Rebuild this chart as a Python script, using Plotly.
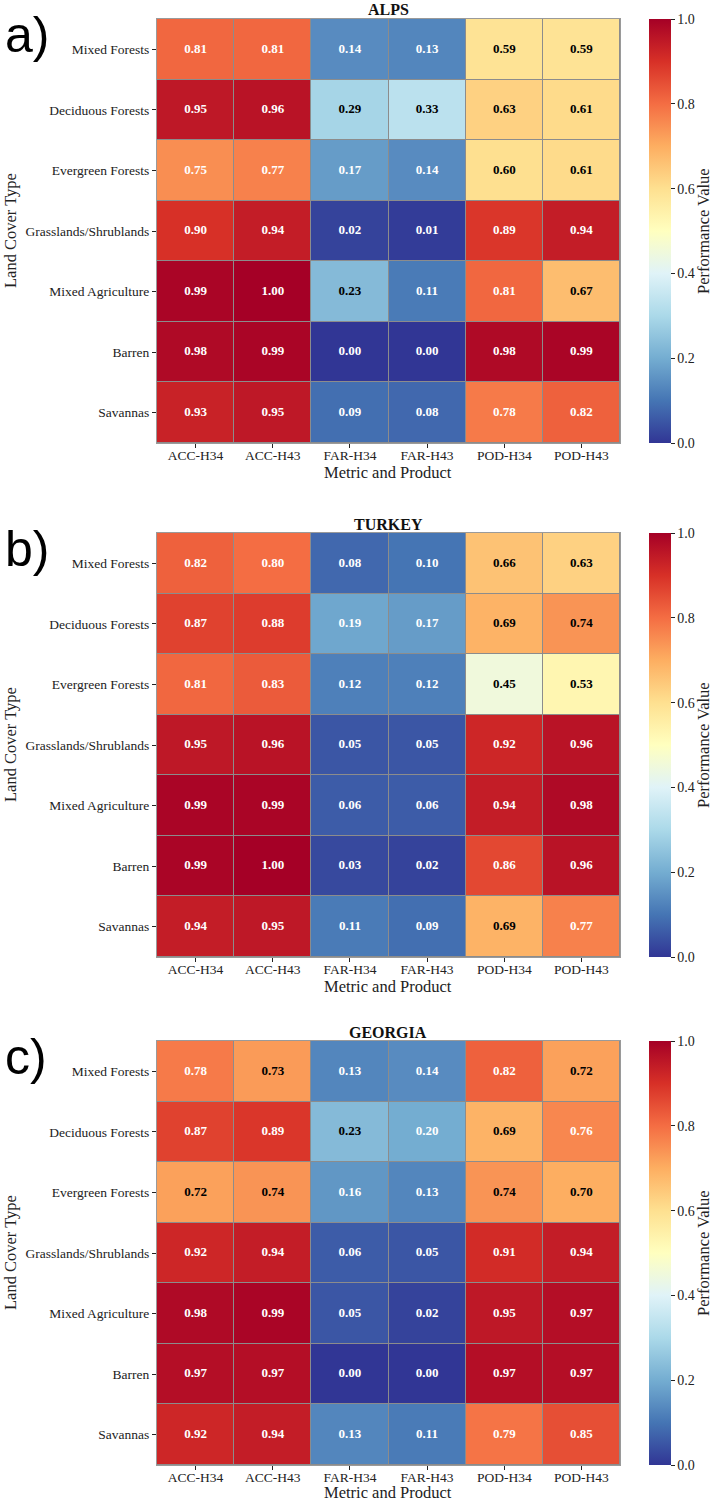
import plotly.graph_objects as go

# ---------------- data ----------------
land_cover = ["Mixed Forests", "Deciduous Forests", "Evergreen Forests",
              "Grasslands/Shrublands", "Mixed Agriculture", "Barren", "Savannas"]
metrics = ["ACC-H34", "ACC-H43", "FAR-H34", "FAR-H43", "POD-H34", "POD-H43"]
regions = ["ALPS", "TURKEY", "GEORGIA"]
panel_labels = ["a)", "b)", "c)"]

alps = [
    [0.81, 0.81, 0.14, 0.13, 0.59, 0.59],
    [0.95, 0.96, 0.29, 0.33, 0.63, 0.61],
    [0.75, 0.77, 0.17, 0.14, 0.60, 0.61],
    [0.90, 0.94, 0.02, 0.01, 0.89, 0.94],
    [0.99, 1.00, 0.23, 0.11, 0.81, 0.67],
    [0.98, 0.99, 0.00, 0.00, 0.98, 0.99],
    [0.93, 0.95, 0.09, 0.08, 0.78, 0.82],
]
turkey = [
    [0.82, 0.80, 0.08, 0.10, 0.66, 0.63],
    [0.87, 0.88, 0.19, 0.17, 0.69, 0.74],
    [0.81, 0.83, 0.12, 0.12, 0.45, 0.53],
    [0.95, 0.96, 0.05, 0.05, 0.92, 0.96],
    [0.99, 0.99, 0.06, 0.06, 0.94, 0.98],
    [0.99, 1.00, 0.03, 0.02, 0.86, 0.96],
    [0.94, 0.95, 0.11, 0.09, 0.69, 0.77],
]
georgia = [
    [0.78, 0.73, 0.13, 0.14, 0.82, 0.72],
    [0.87, 0.89, 0.23, 0.20, 0.69, 0.76],
    [0.72, 0.74, 0.16, 0.13, 0.74, 0.70],
    [0.92, 0.94, 0.06, 0.05, 0.91, 0.94],
    [0.98, 0.99, 0.05, 0.02, 0.95, 0.97],
    [0.97, 0.97, 0.00, 0.00, 0.97, 0.97],
    [0.92, 0.94, 0.13, 0.11, 0.79, 0.85],
]
panels = [alps, turkey, georgia]

# RdYlBu reversed (ColorBrewer 11)
rdylbu_r = ["#313695", "#4575b4", "#74add1", "#abd9e9", "#e0f3f8", "#ffffbf",
            "#fee090", "#fdae61", "#f46d43", "#d73027", "#a50026"]
colorscale = [[i / 10, c] for i, c in enumerate(rdylbu_r)]


def hex2rgb(h):
    h = h.lstrip("#")
    return [int(h[i:i + 2], 16) / 255 for i in (0, 2, 4)]


def cmap(v):
    idx = min(int(v * 256), 255)
    t = idx / 255 * 10
    i = min(int(t), 9)
    f = t - i
    a, b = hex2rgb(rdylbu_r[i]), hex2rgb(rdylbu_r[i + 1])
    return [a[k] + (b[k] - a[k]) * f for k in range(3)]


def lum(rgb):
    lin = [c / 12.92 if c <= 0.03928 else ((c + 0.055) / 1.055) ** 2.4 for c in rgb]
    return 0.2126 * lin[0] + 0.7152 * lin[1] + 0.0722 * lin[2]


# ---------------- layout geometry (px) ----------------
W, H = 712, 1503
x0, x1 = 157, 620
tops = [19, 533, 1041]
ph = 424
cb_left, cb_w = 649, 22

SERIF = "Liberation Serif"
SANS = "Liberation Sans"


def px(x):
    return x / W


def py(y):
    return 1 - y / H


fig = go.Figure()
annotations = []
layout = {}

for k, (data, region, lab) in enumerate(zip(panels, regions, panel_labels)):
    top = tops[k]
    bot = top + ph
    sfx = "" if k == 0 else str(k + 1)
    xa, ya = "x" + sfx, "y" + sfx

    fig.add_trace(go.Heatmap(
        z=data, x=metrics, y=land_cover, zmin=0, zmax=1,
        colorscale=colorscale, xgap=1, ygap=1, xaxis=xa, yaxis=ya,
        hoverinfo="skip",
        colorbar=dict(
            x=px(cb_left), xanchor="left", xref="paper", xpad=0,
            y=py(top + ph / 2), yanchor="middle", ypad=0,
            len=ph / H, lenmode="fraction", thickness=cb_w, thicknessmode="pixels",
            outlinewidth=0, ticks="outside", ticklen=4, tickcolor="#222",
            tickvals=[0, 0.2, 0.4, 0.6, 0.8, 1.0],
            ticktext=["0.0", "0.2", "0.4", "0.6", "0.8", "1.0"],
            tickfont=dict(family=SERIF, size=14, color="#222"),
        ),
    ))

    xs, ys, txt, cols = [], [], [], []
    for i, row in enumerate(data):
        for j, v in enumerate(row):
            xs.append(metrics[j])
            ys.append(land_cover[i])
            txt.append("<b>%.2f</b>" % v)
            cols.append("#000000" if lum(cmap(v)) > 0.408 else "#ffffff")
    fig.add_trace(go.Scatter(
        x=xs, y=ys, text=txt, mode="text", xaxis=xa, yaxis=ya,
        textfont=dict(family=SERIF, size=13, color=cols),
        hoverinfo="skip", showlegend=False,
    ))

    layout["xaxis" + sfx] = dict(
        domain=[px(x0), px(x1)], anchor=ya, type="category",
        categoryorder="array", categoryarray=metrics,
        ticks="outside", ticklen=4, tickcolor="#222", tickwidth=1,
        ticklabelstandoff=-4,
        tickfont=dict(family=SERIF, size=13.5, color="#222"),
        showline=True, mirror=True, linecolor="#9a9a9a", linewidth=1,
        showgrid=False, zeroline=False, fixedrange=True,
    )
    layout["yaxis" + sfx] = dict(
        domain=[py(bot), py(top)], anchor=xa, type="category",
        categoryorder="array", categoryarray=land_cover, autorange="reversed",
        ticks="outside", ticklen=4, tickcolor="#222", tickwidth=1,
        tickfont=dict(family=SERIF, size=13.5, color="#222"),
        showline=True, mirror=True, linecolor="#9a9a9a", linewidth=1,
        showgrid=False, zeroline=False, fixedrange=True,
    )

    # panel title
    annotations.append(dict(
        text="<b>%s</b>" % region, x=px((x0 + x1) / 2), y=py(top - 9),
        xref="paper", yref="paper", xanchor="center", yanchor="middle",
        showarrow=False, font=dict(family=SERIF, size=16, color="#111"),
    ))
    # panel letter
    annotations.append(dict(
        text=lab, x=px(3), y=py(top + 16), xref="paper", yref="paper",
        xanchor="left", yanchor="middle", showarrow=False,
        font=dict(family=SANS, size=50, color="#000"),
    ))
    # x title
    annotations.append(dict(
        text="Metric and Product", x=px((x0 + x1) / 2),
        y=py(min(bot + 29, H - 11)),
        xref="paper", yref="paper", xanchor="center", yanchor="middle",
        showarrow=False, font=dict(family=SERIF, size=16.5, color="#222"),
    ))
    # y title
    annotations.append(dict(
        text="Land Cover Type", x=px(10), y=py(top + ph / 2), textangle=-90,
        xref="paper", yref="paper", xanchor="center", yanchor="middle",
        showarrow=False, font=dict(family=SERIF, size=16.5, color="#222"),
    ))
    # colorbar title
    annotations.append(dict(
        text="Performance Value", x=px(703), y=py(top + ph / 2), textangle=-90,
        xref="paper", yref="paper", xanchor="center", yanchor="middle",
        showarrow=False, font=dict(family=SERIF, size=16.5, color="#222"),
    ))

fig.update_layout(
    width=W, height=H, margin=dict(l=0, r=0, t=0, b=0),
    paper_bgcolor="white", plot_bgcolor="#8c8c8c",
    showlegend=False, annotations=annotations, **layout,
)

fig.write_html("out.html")
